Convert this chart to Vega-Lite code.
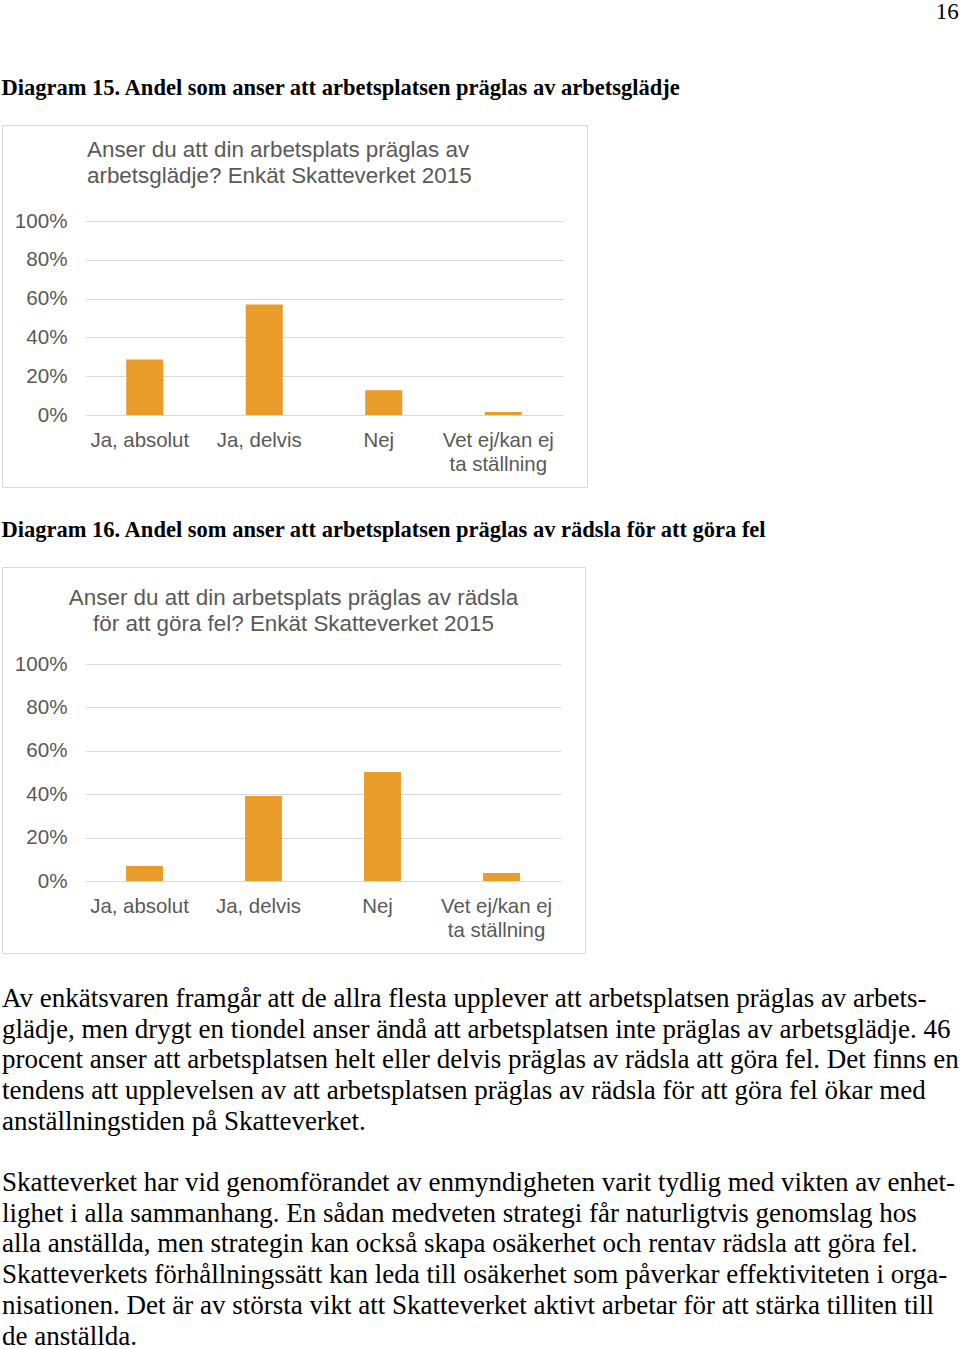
{
  "$schema": "https://vega.github.io/schema/vega-lite/v6.json",
  "background": "white",
  "padding": {"left": 1, "right": 3, "top": 1, "bottom": 0},
  "title": {"text": "16", "anchor": "end", "font": "Liberation Serif", "fontSize": 23, "fontWeight": "normal", "color": "black", "offset": 53},
  "spacing": 31,
  "datasets": {
    "d15": [
      {"svar": "Ja, absolut", "andel": 0.286},
      {"svar": "Ja, delvis", "andel": 0.570},
      {"svar": "Nej", "andel": 0.128},
      {"svar": "Vet ej/kan ej ta ställning", "andel": 0.015}
    ],
    "d16": [
      {"svar": "Ja, absolut", "andel": 0.069},
      {"svar": "Ja, delvis", "andel": 0.392},
      {"svar": "Nej", "andel": 0.502},
      {"svar": "Vet ej/kan ej ta ställning", "andel": 0.037}
    ],
    "brodtext": [
      {"rad": 0, "text": "Av enkätsvaren framgår att de allra flesta upplever att arbetsplatsen präglas av arbets-"},
      {"rad": 1, "text": "glädje, men drygt en tiondel anser ändå att arbetsplatsen inte präglas av arbetsglädje. 46"},
      {"rad": 2, "text": "procent anser att arbetsplatsen helt eller delvis präglas av rädsla att göra fel. Det finns en"},
      {"rad": 3, "text": "tendens att upplevelsen av att arbetsplatsen präglas av rädsla för att göra fel ökar med"},
      {"rad": 4, "text": "anställningstiden på Skatteverket."},
      {"rad": 6, "text": "Skatteverket har vid genomförandet av enmyndigheten varit tydlig med vikten av enhet-"},
      {"rad": 7, "text": "lighet i alla sammanhang. En sådan medveten strategi får naturligtvis genomslag hos"},
      {"rad": 8, "text": "alla anställda, men strategin kan också skapa osäkerhet och rentav rädsla att göra fel."},
      {"rad": 9, "text": "Skatteverkets förhållningssätt kan leda till osäkerhet som påverkar effektiviteten i orga-"},
      {"rad": 10, "text": "nisationen. Det är av största vikt att Skatteverket aktivt arbetar för att stärka tilliten till"},
      {"rad": 11, "text": "de anställda."}
    ]
  },
  "vconcat": [
    {
      "title": {"text": "Diagram 15. Andel som anser att arbetsplatsen präglas av arbetsglädje", "anchor": "start", "font": "Liberation Serif", "fontSize": 22.5, "fontWeight": "bold", "color": "black", "offset": 25},
      "vconcat": [
        {
          "width": 585,
          "height": 362,
          "view": {"stroke": "#d9d9d9", "strokeWidth": 1},
          "data": {"name": "d15"},
          "title": {"text": ["Anser du att din arbetsplats präglas av", "arbetsglädje? Enkät Skatteverket 2015"], "anchor": "start", "frame": "group", "dx": 85, "offset": -62, "font": "Liberation Sans", "fontSize": 22.4, "fontWeight": "normal", "color": "#595959", "lineHeight": 25.7},
          "mark": {"type": "bar", "color": "#EA9C2B"},
          "encoding": {
            "x": {"field": "svar", "type": "nominal", "sort": null,
              "scale": {"range": [83, 561], "paddingInner": 0.69, "paddingOuter": 0.345},
              "axis": {"title": null, "orient": "bottom", "offset": -72, "labelPadding": 15, "labelOffset": -5, "ticks": false, "domain": false, "labelAngle": 0, "labelFont": "Liberation Sans", "labelFontSize": 20.4, "labelColor": "#595959", "labelLimit": 0, "labelLineHeight": 24,
                "labelExpr": "datum.label == 'Vet ej/kan ej ta ställning' ? ['Vet ej/kan ej', 'ta ställning'] : datum.label"}},
            "y": {"field": "andel", "type": "quantitative",
              "scale": {"domain": [0, 1], "range": [290, 96]},
              "axis": {"title": null, "values": [0, 0.2, 0.4, 0.6, 0.8, 1], "format": ".0%", "offset": -83, "labelPadding": 18, "ticks": false, "domain": false, "grid": true, "gridColor": "#d9d9d9", "labelFont": "Liberation Sans", "labelFontSize": 20.6, "labelColor": "#595959"}}
          }
        }
      ]
    },
    {
      "title": {"text": "Diagram 16. Andel som anser att arbetsplatsen präglas av rädsla för att göra fel", "anchor": "start", "font": "Liberation Serif", "fontSize": 22.5, "fontWeight": "bold", "color": "black", "offset": 25},
      "vconcat": [
        {
          "width": 583,
          "height": 386,
          "view": {"stroke": "#d9d9d9", "strokeWidth": 1},
          "data": {"name": "d16"},
          "title": {"text": ["Anser du att din arbetsplats präglas av rädsla", "för att göra fel? Enkät Skatteverket 2015"], "anchor": "middle", "frame": "group", "offset": -68, "font": "Liberation Sans", "fontSize": 22.4, "fontWeight": "normal", "color": "#595959", "lineHeight": 25.7},
          "mark": {"type": "bar", "color": "#EA9C2B"},
          "encoding": {
            "x": {"field": "svar", "type": "nominal", "sort": null,
              "scale": {"range": [83, 559], "paddingInner": 0.69, "paddingOuter": 0.345},
              "axis": {"title": null, "orient": "bottom", "offset": -72, "labelPadding": 15, "labelOffset": -5, "ticks": false, "domain": false, "labelAngle": 0, "labelFont": "Liberation Sans", "labelFontSize": 20.4, "labelColor": "#595959", "labelLimit": 0, "labelLineHeight": 24,
                "labelExpr": "datum.label == 'Vet ej/kan ej ta ställning' ? ['Vet ej/kan ej', 'ta ställning'] : datum.label"}},
            "y": {"field": "andel", "type": "quantitative",
              "scale": {"domain": [0, 1], "range": [314, 97]},
              "axis": {"title": null, "values": [0, 0.2, 0.4, 0.6, 0.8, 1], "format": ".0%", "offset": -83, "labelPadding": 18, "ticks": false, "domain": false, "grid": true, "gridColor": "#d9d9d9", "labelFont": "Liberation Sans", "labelFontSize": 20.6, "labelColor": "#595959"}}
          }
        }
      ]
    },
    {
      "width": 955,
      "height": 337.5,
      "view": {"stroke": null},
      "data": {"name": "brodtext"},
      "mark": {"type": "text", "align": "left", "baseline": "alphabetic", "font": "Liberation Serif", "fontSize": 27, "color": "black"},
      "encoding": {
        "y": {"field": "rad", "type": "quantitative", "axis": null, "scale": {"domain": [0, 11], "reverse": true}},
        "x": {"datum": 0, "type": "quantitative", "axis": null, "scale": {"domain": [0, 1]}},
        "text": {"field": "text", "type": "nominal"}
      }
    }
  ],
  "config": {"font": "Liberation Sans"}
}
